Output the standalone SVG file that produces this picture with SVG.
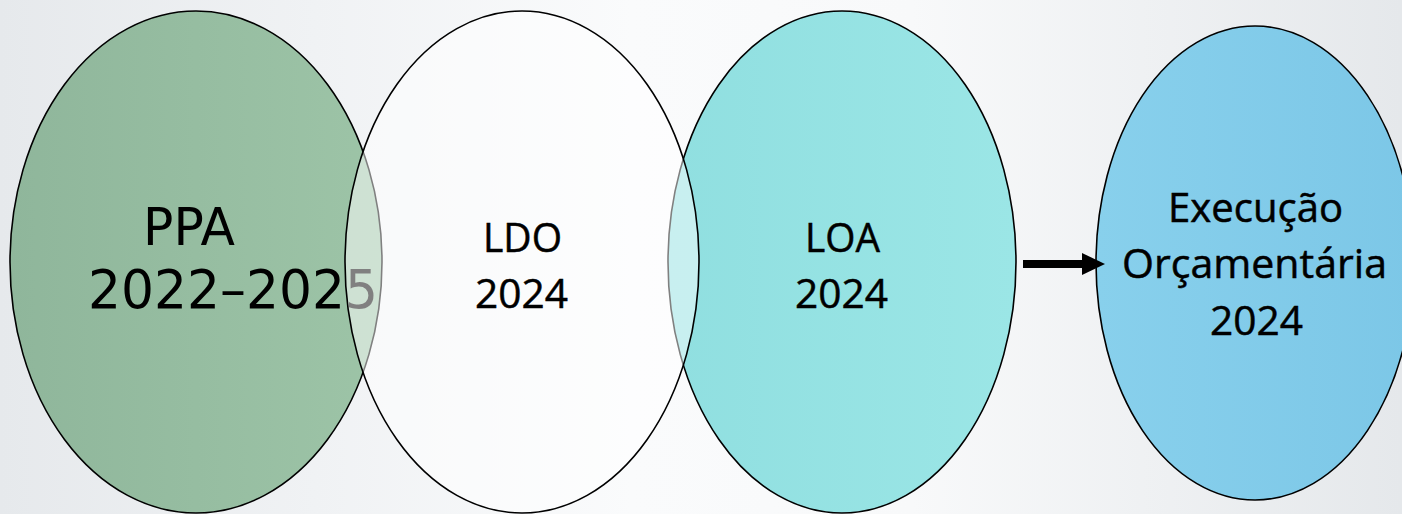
<svg xmlns="http://www.w3.org/2000/svg" width="1402" height="514" viewBox="0 0 1402 514">
  <defs>
    <linearGradient id="bg" x1="0" y1="0" x2="1" y2="0">
      <stop offset="0" stop-color="#e6e9ec"/>
      <stop offset="0.45" stop-color="#fafbfc"/>
      <stop offset="0.65" stop-color="#f8f9fa"/>
      <stop offset="1" stop-color="#e5e8eb"/>
    </linearGradient>
    <linearGradient id="gPPA" x1="0" y1="0" x2="1" y2="0">
      <stop offset="0" stop-color="#8fb69b"/>
      <stop offset="1" stop-color="#9dc4a7"/>
    </linearGradient>
    <linearGradient id="gLOA" x1="0" y1="0" x2="1" y2="0">
      <stop offset="0" stop-color="#90dfe0"/>
      <stop offset="1" stop-color="#9be6e6"/>
    </linearGradient>
    <linearGradient id="gEXE" x1="0" y1="0" x2="1" y2="0">
      <stop offset="0" stop-color="#88d0ec"/>
      <stop offset="1" stop-color="#7cc7e7"/>
    </linearGradient>
    <marker id="head" markerUnits="userSpaceOnUse" markerWidth="24" markerHeight="24" refX="0" refY="12" orient="auto" viewBox="0 0 24 24">
      <path d="M0,1 L23,12 L0,23 Z" fill="#000"/>
    </marker>
    <style>
      .shape { stroke: #000; stroke-width: 1.6; }
      .lbl { font-family: "Open Sans", "Noto Sans", sans-serif; font-size: 41px; fill: #000; stroke: #000; stroke-width: 0.5; text-anchor: middle; }
      .ppa { font-family: "DejaVu Sans", "Noto Sans", sans-serif; fill: #000; text-anchor: middle; }
    </style>
  </defs>
  <rect x="0" y="0" width="1402" height="514" fill="url(#bg)"/>

  <g id="node-ppa">
    <ellipse class="shape" cx="196" cy="262" rx="186" ry="251" fill="url(#gPPA)"/>
    <text class="ppa" x="189" y="245" font-size="51" textLength="92" lengthAdjust="spacingAndGlyphs">PPA</text>
    <text class="ppa" x="233" y="308" font-size="54" textLength="290" lengthAdjust="spacingAndGlyphs">2022–2025</text>
  </g>

  <g id="node-loa">
    <ellipse class="shape" cx="842" cy="262" rx="174" ry="251" fill="url(#gLOA)"/>
    <text class="lbl" x="842.5" y="252" textLength="75" lengthAdjust="spacingAndGlyphs">LOA</text>
    <text class="lbl" x="841.5" y="308" textLength="93" lengthAdjust="spacingAndGlyphs">2024</text>
  </g>

  <g id="node-ldo">
    <ellipse class="shape" cx="522" cy="262" rx="177" ry="251" fill="#ffffff" fill-opacity="0.5"/>
    <text class="lbl" x="522.5" y="252" textLength="79" lengthAdjust="spacingAndGlyphs">LDO</text>
    <text class="lbl" x="521.5" y="308" textLength="93" lengthAdjust="spacingAndGlyphs">2024</text>
  </g>

  <g id="node-exec">
    <ellipse class="shape" cx="1255" cy="263" rx="159" ry="237" fill="url(#gEXE)"/>
    <text class="lbl" x="1255.5" y="222" textLength="175" lengthAdjust="spacingAndGlyphs">Execução</text>
    <text class="lbl" x="1254.5" y="278" textLength="265" lengthAdjust="spacingAndGlyphs">Orçamentária</text>
    <text class="lbl" x="1256.5" y="335" textLength="93" lengthAdjust="spacingAndGlyphs">2024</text>
  </g>

  <g id="connectors">
    <line x1="1023" y1="264" x2="1082" y2="264" stroke="#000" stroke-width="8" marker-end="url(#head)"/>
  </g>
</svg>
